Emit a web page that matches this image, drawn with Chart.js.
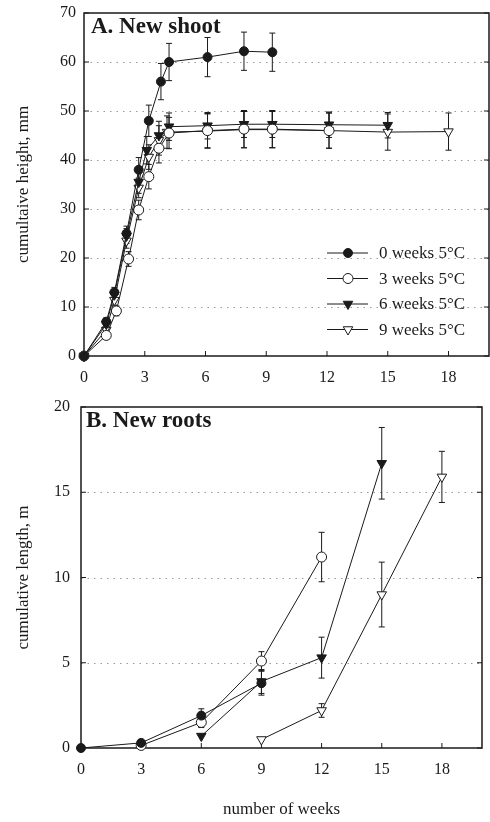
<!DOCTYPE html>
<html>
<head>
<meta charset="utf-8">
<script src="https://cdn.jsdelivr.net/npm/chart.js@4/dist/chart.umd.min.js"></script>
<style>
  html, body { margin: 0; padding: 0; background: #fff; }
  #wrap { position: relative; width: 490px; height: 822px; }
  #shoot { position: absolute; left: 0; top: 0; }
  #roots { position: absolute; left: 0; top: 392px; }
</style>
</head>
<body>
<div id="wrap">
  <canvas id="shoot" width="490" height="392"></canvas>
  <canvas id="roots" width="490" height="430"></canvas>
</div>
<script>
// A. New shoot — cumulative height (mm) vs weeks
const weekTicks = [0, 3, 6, 9, 12, 15, 18];
const seriesNames = ['0 weeks 5°C', '3 weeks 5°C', '6 weeks 5°C', '9 weeks 5°C'];

const shoot0wX = [0, 1.1, 1.5, 2.1, 2.7, 3.2, 3.8, 4.2, 6.1, 7.9, 9.3];
const shoot0wY = [0, 7, 13, 25, 38, 48, 56, 60, 61, 62.2, 62];
const shoot0wErr = [0, 0.8, 1, 1.5, 2.5, 3.2, 3.7, 3.8, 4, 3.9, 3.9];

const shoot3wX = [0, 1.1, 1.6, 2.2, 2.7, 3.2, 3.7, 4.2, 6.1, 7.9, 9.3, 12.1];
const shoot3wY = [0, 4.2, 9.2, 19.8, 29.8, 36.6, 42.4, 45.5, 46, 46.3, 46.3, 46];
const shoot3wErr = [0, 0.8, 1, 1.5, 2, 2.5, 3, 3.2, 3.5, 3.8, 3.8, 3.6];

const shoot6wX = [0, 1.1, 1.5, 2.1, 2.7, 3.1, 3.7, 4.2, 6.1, 7.9, 9.3, 12.1, 15];
const shoot6wY = [0, 6.5, 12.5, 24.5, 35.5, 42, 45, 46.8, 47, 47.3, 47.3, 47.2, 47.1];
const shoot6wErr = [0, 0.8, 1, 1.5, 2.3, 2.8, 2.9, 2.8, 2.7, 2.7, 2.7, 2.6, 2.6];

const shoot9wX = [0, 1.1, 1.5, 2.1, 2.7, 3.2, 3.7, 4.1, 6.1, 7.9, 9.3, 12.1, 15, 18];
const shoot9wY = [0, 5.3, 11.4, 23.5, 34.3, 40.6, 44, 45.7, 45.9, 46.2, 46.2, 46, 45.7, 45.8];
const shoot9wErr = [0, 0.7, 1, 1.5, 2, 2.5, 3, 3.3, 3.5, 3.7, 3.7, 3.6, 3.7, 3.8];

// B. New roots — cumulative length (m) vs weeks
const roots0wX = [0, 3, 6, 9];
const roots0wY = [0, 0.3, 1.9, 3.8];
const roots0wErr = [0, 0, 0.4, 0.7];

const roots3wX = [3, 6, 9, 12];
const roots3wY = [0.15, 1.5, 5.1, 11.2];
const roots3wErr = [0, 0.3, 0.55, 1.45];

const roots6wX = [6, 9, 12, 15];
const roots6wY = [0.7, 3.9, 5.3, 16.7];
const roots6wErr = [0, 0.7, 1.2, 2.1];

const roots9wX = [9, 12, 15, 18];
const roots9wY = [0.5, 2.2, 9.0, 15.9];
const roots9wErr = [0, 0.4, 1.9, 1.5];

const INK = '#1a1a1a';
const SERIF = "'Liberation Serif', 'DejaVu Serif', serif";

// marker look per treatment
const markerStyles = [
  { pointStyle: 'circle',   radius: 4.5, fill: INK,    rotation: 0 },
  { pointStyle: 'circle',   radius: 5,   fill: '#fff', rotation: 0 },
  { pointStyle: 'triangle', radius: 5.5, fill: INK,    rotation: 180 },
  { pointStyle: 'triangle', radius: 5.5, fill: '#fff', rotation: 180 }
];

function makeDataset(i, xs, ys, errs) {
  const m = markerStyles[i];
  return {
    label: seriesNames[i],
    data: xs.map((x, k) => ({ x: x, y: ys[k] })),
    errors: errs,
    showLine: true,
    borderColor: INK,
    borderWidth: 1,
    pointStyle: m.pointStyle,
    pointRadius: m.radius,
    pointRotation: m.rotation,
    pointBackgroundColor: m.fill,
    pointBorderColor: INK,
    pointBorderWidth: 1,
    clip: false
  };
}

// ─── plugins ────────────────────────────────────────────────────────────────

// vertical error bars with caps, under the markers
const errorBars = {
  id: 'errorBars',
  beforeDatasetsDraw(chart) {
    const { ctx, scales: { x, y } } = chart;
    ctx.save();
    ctx.strokeStyle = INK;
    ctx.lineWidth = 1;
    chart.data.datasets.forEach(ds => {
      ds.data.forEach((p, k) => {
        const e = ds.errors[k];
        if (!e) return;
        const px = x.getPixelForValue(p.x);
        const top = y.getPixelForValue(p.y + e);
        const bot = y.getPixelForValue(p.y - e);
        ctx.beginPath();
        ctx.moveTo(px, top); ctx.lineTo(px, bot);
        ctx.moveTo(px - 3, top); ctx.lineTo(px + 3, top);
        ctx.moveTo(px - 3, bot); ctx.lineTo(px + 3, bot);
        ctx.stroke();
      });
    });
    ctx.restore();
  }
};

// dotted grid, box frame and inward tick marks
const frame = {
  id: 'frame',
  beforeDatasetsDraw(chart) {
    const { ctx, chartArea: a, scales: { x, y } } = chart;
    ctx.save();
    ctx.strokeStyle = '#9a9a9a';
    ctx.lineWidth = 1;
    ctx.setLineDash([1.5, 5]);
    y.ticks.forEach(t => {
      if (t.value === y.min || t.value === y.max) return;
      const py = Math.round(y.getPixelForValue(t.value)) + 0.5;
      ctx.beginPath(); ctx.moveTo(a.left, py); ctx.lineTo(a.right, py); ctx.stroke();
    });
    ctx.setLineDash([]);
    ctx.strokeStyle = INK;
    ctx.lineWidth = 1.5;
    ctx.strokeRect(a.left, a.top, a.right - a.left, a.bottom - a.top);
    ctx.lineWidth = 1;
    ctx.beginPath();
    y.ticks.forEach(t => {
      const py = y.getPixelForValue(t.value);
      ctx.moveTo(a.left, py); ctx.lineTo(a.left + 5, py);
      ctx.moveTo(a.right, py); ctx.lineTo(a.right - 5, py);
    });
    x.ticks.forEach(t => {
      const px = x.getPixelForValue(t.value);
      ctx.moveTo(px, a.bottom); ctx.lineTo(px, a.bottom - 5);
    });
    ctx.stroke();
    ctx.restore();
  }
};

// bold panel heading in the upper-left corner
const panelTitle = {
  id: 'panelTitle',
  afterDraw(chart, args, opts) {
    const { ctx, chartArea: a } = chart;
    ctx.save();
    ctx.fillStyle = INK;
    ctx.font = 'bold 23px ' + SERIF;
    ctx.textBaseline = 'alphabetic';
    ctx.fillText(opts.text, a.left + opts.dx, a.top + opts.dy);
    ctx.restore();
  }
};

// legend drawn inside the plot, lower right
const insideLegend = {
  id: 'insideLegend',
  afterDraw(chart, args, opts) {
    if (!opts.show) return;
    const { ctx } = chart;
    ctx.save();
    ctx.font = '17px ' + SERIF;
    ctx.textBaseline = 'middle';
    chart.data.datasets.forEach((ds, i) => {
      const ly = opts.y0 + i * opts.step;
      ctx.strokeStyle = INK;
      ctx.lineWidth = 1;
      ctx.beginPath(); ctx.moveTo(opts.x0, ly); ctx.lineTo(opts.x0 + 41, ly); ctx.stroke();
      ctx.fillStyle = ds.pointBackgroundColor;
      Chart.helpers.drawPoint(ctx, {
        pointStyle: ds.pointStyle,
        radius: ds.pointRadius,
        rotation: ds.pointRotation,
        borderWidth: 1
      }, opts.x0 + 21, ly);
      ctx.fillStyle = INK;
      ctx.fillText(ds.label, opts.x0 + 52, ly + 1);
    });
    ctx.restore();
  }
};

// ─── charts ─────────────────────────────────────────────────────────────────

function axisOptions(cfg) {
  return {
    x: {
      type: 'linear', min: 0, max: 20,
      afterBuildTicks: s => { s.ticks = weekTicks.map(v => ({ value: v })); },
      afterFit: s => { s.height = cfg.xHeight; s.paddingLeft = 0; s.paddingRight = 0; },
      grid: { display: false, drawTicks: false },
      border: { display: false },
      ticks: { padding: 12, color: INK, font: { family: SERIF, size: 16 } },
      title: {
        display: !!cfg.xTitle, text: cfg.xTitle || '', color: INK,
        font: { family: SERIF, size: 17 }, padding: { bottom: 2, top: 0 }
      }
    },
    y: {
      type: 'linear', min: 0, max: cfg.yMax,
      afterBuildTicks: s => { s.ticks = cfg.yTicks.map(v => ({ value: v })); },
      afterFit: s => { s.width = cfg.yWidth; s.paddingTop = 0; s.paddingBottom = 0; },
      grid: { display: false, drawTicks: false },
      border: { display: false },
      ticks: { padding: cfg.yPad, color: INK, font: { family: SERIF, size: 16 } },
      title: {
        display: true, text: cfg.yTitle, color: INK,
        font: { family: SERIF, size: 17 }, padding: { top: 13, bottom: 0 }
      }
    }
  };
}

const shootChart = new Chart(document.getElementById('shoot'), {
  type: 'scatter',
  data: {
    datasets: [
      makeDataset(0, shoot0wX, shoot0wY, shoot0wErr),
      makeDataset(1, shoot3wX, shoot3wY, shoot3wErr),
      makeDataset(2, shoot6wX, shoot6wY, shoot6wErr),
      makeDataset(3, shoot9wX, shoot9wY, shoot9wErr)
    ]
  },
  options: {
    responsive: false,
    animation: false,
    layout: { autoPadding: false, padding: { top: 13, right: 1, left: 0, bottom: 0 } },
    scales: axisOptions({
      yMax: 70, yTicks: [0, 10, 20, 30, 40, 50, 60, 70],
      yTitle: 'cumultaive height, mm', yWidth: 84, yPad: 8, xHeight: 36
    }),
    plugins: {
      legend: { display: false },
      tooltip: { enabled: false },
      panelTitle: { text: 'A. New shoot', dx: 7, dy: 20 },
      insideLegend: { show: true, x0: 327, y0: 253, step: 25.5 }
    }
  },
  plugins: [frame, errorBars, panelTitle, insideLegend]
});

const rootsChart = new Chart(document.getElementById('roots'), {
  type: 'scatter',
  data: {
    datasets: [
      makeDataset(0, roots0wX, roots0wY, roots0wErr),
      makeDataset(1, roots3wX, roots3wY, roots3wErr),
      makeDataset(2, roots6wX, roots6wY, roots6wErr),
      makeDataset(3, roots9wX, roots9wY, roots9wErr)
    ]
  },
  options: {
    responsive: false,
    animation: false,
    layout: { autoPadding: false, padding: { top: 15, right: 8, left: 0, bottom: 0 } },
    scales: axisOptions({
      yMax: 20, yTicks: [0, 5, 10, 15, 20],
      yTitle: 'cumulative length, m', yWidth: 81, yPad: 11, xHeight: 74,
      xTitle: 'number of weeks'
    }),
    plugins: {
      legend: { display: false },
      tooltip: { enabled: false },
      panelTitle: { text: 'B. New roots', dx: 5, dy: 20 },
      insideLegend: { show: false }
    }
  },
  plugins: [frame, errorBars, panelTitle, insideLegend]
});
</script>
</body>
</html>
